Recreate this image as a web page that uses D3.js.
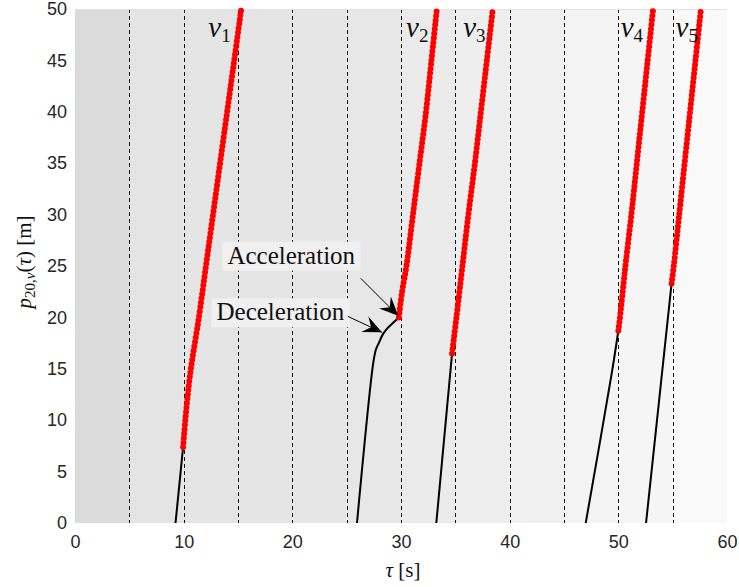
<!DOCTYPE html>
<html>
<head>
<meta charset="utf-8">
<script src="https://cdn.jsdelivr.net/npm/d3@7"></script>
<style>
  body { margin: 0; background: #fff; }
  .tick text { font-family: "Liberation Sans", Arial, sans-serif; font-size: 18px; fill: #262626; }
  .tex { font-family: "Liberation Serif", "DejaVu Serif", serif; fill: #111; }
</style>
</head>
<body>
<div id="chart"></div>
<script>
/* CONSTANTS AND GLOBALS */
const width = 739,
  height = 587,
  margin = { top: 9, bottom: 64, left: 75, right: 12 };

// time bands (every 5 s) and their shade
const bandEdges = [0, 5, 10, 15, 20, 25, 30, 35, 40, 45, 50, 55, 60];
const bandShade = ["#dbdbdb", "#e4e4e4", "#e5e5e5", "#e5e5e5", "#e6e6e6", "#e7e7e7",
  "#ebebeb", "#eeeeee", "#f0f0f0", "#f3f3f3", "#f5f5f5", "#f9f9f9"];
const dashedTimes = [5, 10, 15, 20, 25, 30, 35, 40, 45, 50, 55];

const xTicks = [0, 10, 20, 30, 40, 50, 60];
const yTicks = [0, 5, 10, 15, 20, 25, 30, 35, 40, 45, 50];

// vehicle names
const vehicles = ["1", "2", "3", "4", "5"];

// black part of each trajectory [tau, p]
const manualV1 = [[9.25, 0], [9.95, 7.4]];
const manualV2 = [[25.95, 0], [27.45, 15.6], [27.7, 16.9], [28.0, 17.6], [28.3, 18.3], [28.8, 19.0], [29.3, 19.5], [29.8, 20.0]];
const manualV3 = [[33.25, 0], [34.7, 16.5]];
const manualV4 = [[47.0, 0], [49.4, 14.6], [50.0, 18.7]];
const manualV5 = [[52.55, 0], [54.9, 23.3]];

// red (dotted) part of each trajectory [tau, p]
const autoV1 = [[9.95, 7.4], [10.15, 10], [10.6, 14.5], [11.4, 20], [12.05, 25], [12.7, 30], [13.35, 35], [14.0, 40], [14.65, 45], [15.3, 50]];
const autoV2 = [[29.8, 20.0], [30.1, 22.5], [30.5, 25], [31.1, 30], [31.7, 35], [32.3, 40], [32.8, 45], [33.3, 50]];
const autoV3 = [[34.7, 16.5], [35.1, 20], [35.65, 25], [36.2, 30], [36.8, 35], [37.35, 40], [37.9, 45], [38.45, 50]];
const autoV4 = [[50.0, 18.7], [50.15, 20], [50.65, 25], [51.2, 30], [51.7, 35], [52.2, 40], [52.7, 45], [53.2, 50]];
const autoV5 = [[54.9, 23.3], [55.1, 25], [55.6, 30], [56.1, 35], [56.6, 40], [57.1, 45], [57.6, 50]];

const manualPaths = [manualV1, manualV2, manualV3, manualV4, manualV5];
const autoPaths = [autoV1, autoV2, autoV3, autoV4, autoV5];

// label anchor of each vehicle name (tau, p)
const labelAt = [[13.3, 47.3], [31.5, 47.3], [36.75, 47.3], [51.25, 47.3], [56.3, 47.3]];

// annotations: text, text centre, arrow tail, arrow tip (data units)
const noteText = ["Acceleration", "Deceleration"];
const noteCentre = [[19.9, 26.0], [18.9, 20.5]];
const noteTail = [[26.3, 23.8], [25.1, 20.1]];
const noteTip = [[29.75, 20.15], [28.25, 18.55]];

/* SCALES */
const xScale = d3.scaleLinear().domain([0, 60]).range([margin.left, width - margin.right]);
const yScale = d3.scaleLinear().domain([0, 50]).range([height - margin.bottom, margin.top]);

const svg = d3.select("#chart").append("svg")
  .attr("width", width)
  .attr("height", height);

// arrow head (matlab vback2 style)
svg.append("defs").append("marker")
  .attr("id", "head")
  .attr("viewBox", "-19 -9 20 18")
  .attr("refX", 0).attr("refY", 0)
  .attr("markerWidth", 20).attr("markerHeight", 18)
  .attr("markerUnits", "userSpaceOnUse")
  .attr("orient", "auto")
  .append("path")
  .attr("d", "M0,0 L-19,-8.5 L-12,0 L-19,8.5 Z")
  .attr("fill", "#000");

// background bands
svg.append("g").selectAll("rect")
  .data(bandShade)
  .join("rect")
  .attr("x", (d, i) => xScale(bandEdges[i]))
  .attr("width", (d, i) => xScale(bandEdges[i + 1]) - xScale(bandEdges[i]))
  .attr("y", yScale(50))
  .attr("height", yScale(0) - yScale(50))
  .attr("fill", d => d);

// dashed verticals
svg.append("g").selectAll("line")
  .data(dashedTimes)
  .join("line")
  .attr("x1", d => Math.round(xScale(d)) + 0.5)
  .attr("x2", d => Math.round(xScale(d)) + 0.5)
  .attr("y1", yScale(50))
  .attr("y2", yScale(0))
  .attr("stroke", "#111")
  .attr("stroke-width", 1)
  .attr("stroke-dasharray", "4,3");

// AXES
const xAxis = d3.axisBottom(xScale).tickValues(xTicks).tickSize(0).tickPadding(12);
const yAxis = d3.axisLeft(yScale).tickValues(yTicks).tickSize(0).tickPadding(8);

svg.append("g")
  .attr("transform", `translate(0, ${yScale(0)})`)
  .call(xAxis)
  .call(g => g.select(".domain").remove());

svg.append("g")
  .attr("transform", `translate(${margin.left}, 0)`)
  .call(yAxis)
  .call(g => g.select(".domain").remove());

// faint top border
svg.append("line")
  .attr("x1", xScale(0)).attr("x2", xScale(60))
  .attr("y1", yScale(50) + 0.5).attr("y2", yScale(50) + 0.5)
  .attr("stroke", "#e3e3e3");

// LINES
const line = d3.line()
  .x(d => xScale(d[0]))
  .y(d => yScale(d[1]))
  .curve(d3.curveCatmullRom);

svg.append("g").selectAll("path")
  .data(manualPaths)
  .join("path")
  .attr("d", line)
  .attr("fill", "none")
  .attr("stroke", "#000")
  .attr("stroke-width", 2);

svg.append("g").selectAll("path")
  .data(autoPaths)
  .join("path")
  .attr("d", line)
  .attr("fill", "none")
  .attr("stroke", "#ff0000")
  .attr("stroke-width", 6)
  .attr("stroke-linecap", "round")
  .attr("stroke-dasharray", "0 4.4");

// vehicle names
const names = svg.append("g").selectAll("text")
  .data(vehicles)
  .join("text")
  .attr("class", "tex")
  .attr("x", (d, i) => xScale(labelAt[i][0]))
  .attr("y", (d, i) => yScale(labelAt[i][1]))
  .attr("text-anchor", "middle");
names.append("tspan").attr("font-style", "italic").attr("font-size", 29).text("v");
names.append("tspan").attr("font-size", 19).attr("dy", 5).text(d => d);

// annotations
noteText.forEach((t, i) => {
  const g = svg.append("g");
  const txt = g.append("text")
    .attr("class", "tex")
    .attr("x", xScale(noteCentre[i][0]))
    .attr("y", yScale(noteCentre[i][1]) + 8)
    .attr("text-anchor", "middle")
    .attr("font-size", 25)
    .text(t);
  const b = txt.node().getBBox();
  g.insert("rect", "text")
    .attr("x", b.x - 5)
    .attr("y", yScale(noteCentre[i][1]) - 14)
    .attr("width", b.width + 10)
    .attr("height", 29)
    .attr("fill", "#f0f0f0");
  svg.append("line")
    .attr("x1", xScale(noteTail[i][0])).attr("y1", yScale(noteTail[i][1]))
    .attr("x2", xScale(noteTip[i][0])).attr("y2", yScale(noteTip[i][1]))
    .attr("stroke", "#000")
    .attr("stroke-width", 1)
    .attr("marker-end", "url(#head)");
});

// axis labels
const xl = svg.append("text")
  .attr("class", "tex")
  .attr("x", xScale(30) + 2)
  .attr("y", 577)
  .attr("text-anchor", "middle")
  .attr("font-size", 21);
xl.append("tspan").attr("font-style", "italic").text("τ");
xl.append("tspan").text(" [s]");

const yl = svg.append("text")
  .attr("class", "tex")
  .attr("transform", `translate(31, ${yScale(25) - 4}) rotate(-90)`)
  .attr("text-anchor", "middle")
  .attr("font-size", 21);
yl.append("tspan").attr("font-style", "italic").text("p");
yl.append("tspan").attr("font-size", 15).attr("dy", 4).text("20,");
yl.append("tspan").attr("font-size", 15).attr("font-style", "italic").text("v");
yl.append("tspan").attr("dy", -4).text("(");
yl.append("tspan").attr("font-style", "italic").text("τ");
yl.append("tspan").text(") [m]");
</script>
</body>
</html>
